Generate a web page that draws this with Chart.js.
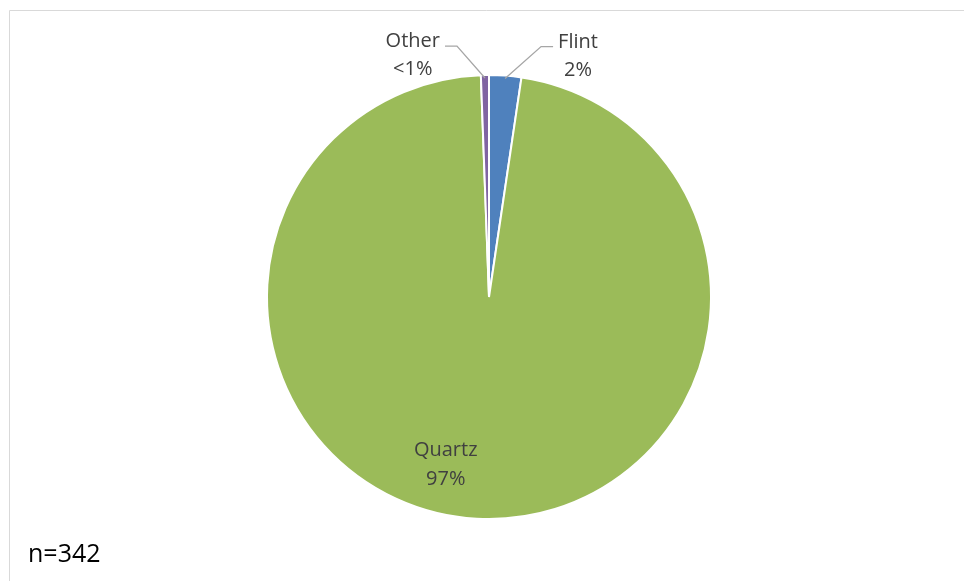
<!DOCTYPE html>
<html lang="en">
<head>
  <meta charset="UTF-8">
  <title>Raw materials</title>
  <script src="https://cdn.jsdelivr.net/npm/chart.js@4.4.1/dist/chart.umd.min.js"></script>
  <style>
    body { margin: 0; background: #fff; }
    #wrap { position: relative; width: 964px; height: 581px; overflow: hidden; }
  </style>
</head>
<body>
  <div id="wrap">
    <canvas id="pieChart" width="964" height="581"></canvas>
  </div>

<script>
  // data
  const categories = ['Flint', 'Quartz', 'Other'];
  const counts = [8, 332, 2];
  const pctLabels = ['2%', '97%', '<1%'];
  const sliceColours = ['#4F81BD', '#9BBB59', '#8064A2'];
  const sampleNote = 'n=342';

  const labelFont = '20px "Open Sans", sans-serif';
  const labelColour = '#404040';
  // leader line run (x) for the outside labels, by slice index
  const leaderRun = { 0: 36, 2: 28 };

  // light grey frame, only top and left show in the picture
  const framePlugin = {
    id: 'frame',
    beforeDraw(chart) {
      const ctx = chart.ctx;
      ctx.save();
      ctx.strokeStyle = '#d9d9d9';
      ctx.lineWidth = 1;
      ctx.beginPath();
      ctx.moveTo(9.5, chart.height);
      ctx.lineTo(9.5, 10.5);
      ctx.lineTo(chart.width, 10.5);
      ctx.stroke();
      ctx.restore();
    }
  };

  // slice labels, inside for the big one, leader lines for the thin ones
  const sliceLabels = {
    id: 'sliceLabels',
    afterDatasetsDraw(chart) {
      const ctx = chart.ctx;
      const arcs = chart.getDatasetMeta(0).data;
      ctx.save();
      ctx.font = labelFont;
      ctx.fillStyle = labelColour;
      ctx.textBaseline = 'alphabetic';

      arcs.forEach((arc, i) => {
        const p = arc.getProps(['x', 'y', 'startAngle', 'endAngle', 'outerRadius'], true);
        const lines = [categories[i], pctLabels[i]];
        const r = p.outerRadius;

        if (i === 1) {
          // inside label
          const tx = p.x - 0.195 * r;
          const ty = p.y + 0.715 * r;
          ctx.textAlign = 'center';
          ctx.fillText(lines[0], tx, ty);
          ctx.fillText(lines[1], tx, ty + 29);
          return;
        }

        const mid = (p.startAngle + p.endAngle) / 2;
        const ax = p.x + Math.cos(mid) * (r - 3);
        const ay = p.y + Math.sin(mid) * (r - 3);
        const dir = i === 0 ? 1 : -1;
        const ex = ax + dir * leaderRun[i];
        const ey = ay - 32;
        const hx = ex + dir * 12;

        ctx.strokeStyle = '#a6a6a6';
        ctx.lineWidth = 1.3;
        ctx.beginPath();
        ctx.moveTo(ax, ay);
        ctx.lineTo(ex, ey);
        ctx.lineTo(hx, ey);
        ctx.stroke();

        const w = Math.max(ctx.measureText(lines[0]).width, ctx.measureText(lines[1]).width);
        const cx = dir > 0 ? hx + 5 + w / 2 : hx - 5 - w / 2;
        ctx.textAlign = 'center';
        ctx.fillText(lines[0], cx, ey + 1);
        ctx.fillText(lines[1], cx, ey + 29);
      });

      // sample size note, bottom left
      ctx.font = '25px "Open Sans", sans-serif';
      ctx.fillStyle = '#000';
      ctx.textAlign = 'left';
      ctx.fillText(sampleNote, 28, 562);
      ctx.restore();
    }
  };

  var ctxPie = document.getElementById('pieChart').getContext('2d');

  var pieChart = new Chart(ctxPie, {
    type: 'pie',
    data: {
      labels: categories,
      datasets: [
        {
          data: counts,
          backgroundColor: sliceColours,
          borderColor: '#ffffff',
          borderWidth: 2
        }
      ]
    },
    options: {
      responsive: false,
      animation: false,
      devicePixelRatio: 1,
      layout: { padding: { top: 74, bottom: 61, left: 14, right: 0 } },
      plugins: {
        legend: { display: false },
        tooltip: { enabled: false }
      }
    },
    plugins: [framePlugin, sliceLabels]
  });
</script>
</body>
</html>
